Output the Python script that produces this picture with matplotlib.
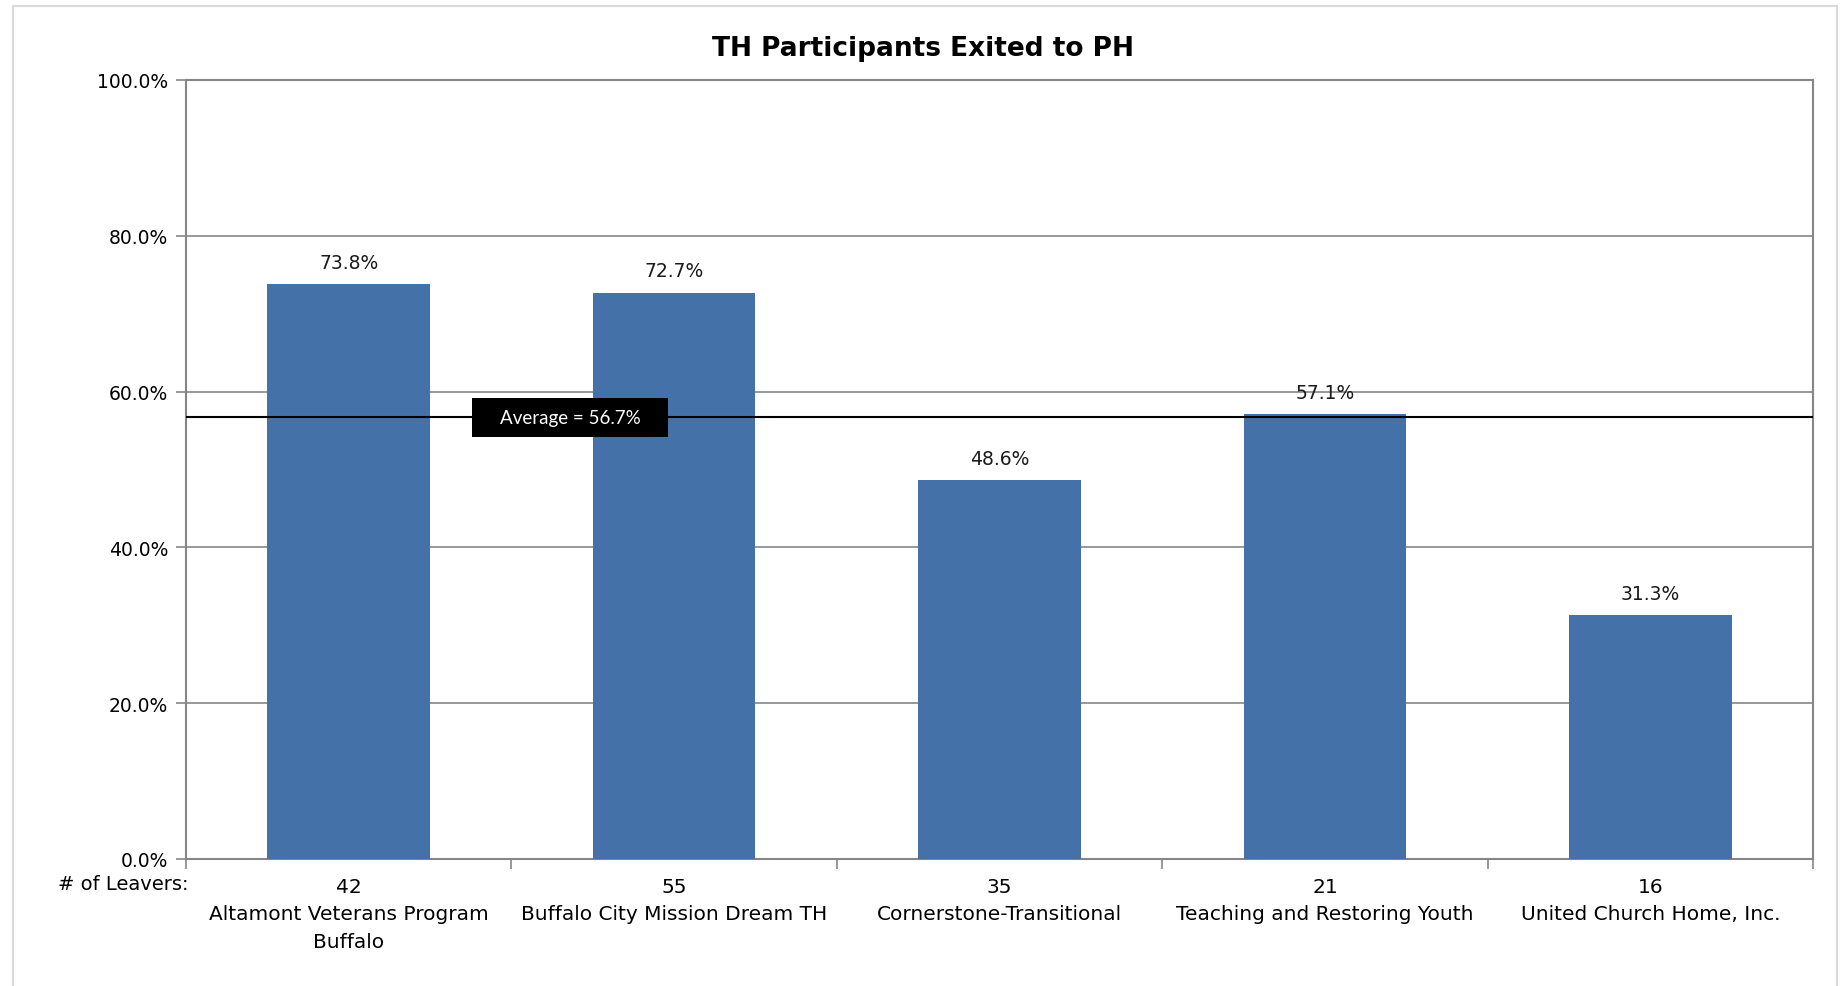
import numpy as np
import matplotlib.pyplot as plt
import matplotlib.patches as patches
from matplotlib.ticker import FuncFormatter, FixedLocator

plt.rcParams['font.family'] = ['DejaVu Sans']

programas = ["Altamont Veterans Program\nBuffalo", "Buffalo City Mission Dream TH",
             "Cornerstone-Transitional", "Teaching and Restoring Youth",
             "United Church Home, Inc."]
salidas = [42, 55, 35, 21, 16]
porcentaje = [73.8, 72.7, 48.6, 57.1, 31.3]
promedio = 56.7

azul = '#4472A8'
gris = '#868686'
tam = 13.5

fig = plt.figure(figsize=(18.45, 9.87), dpi=100)
ax = fig.add_axes([186/1845, 1-860/987, (1813-186)/1845, (860-81)/987])

x = np.arange(len(programas))
ax.bar(x, porcentaje, width=0.5, color=azul, zorder=3)

for xi, v in zip(x, porcentaje):
    ax.annotate(f'{v:.1f}%', (xi, v), xytext=(0, 9), textcoords='offset points',
                ha='center', va='bottom', fontsize=tam, color='#1a1a1a')

# linea del promedio con su etiqueta
ax.axhline(promedio, color='black', linewidth=1.5, zorder=4)
ax.add_patch(patches.Rectangle((0.38, promedio - 2.5), 0.60, 5.0,
                               facecolor='black', edgecolor='none', zorder=5))
ax.text(0.68, promedio, f'Average = {promedio:.1f}%', color='white',
        ha='center', va='center', fontsize=13.5, family='Lato', zorder=6)

ax.set_xlim(-0.5, len(programas) - 0.5)
ax.set_ylim(0, 100)
ax.set_yticks(np.arange(0, 101, 20))
ax.yaxis.set_major_formatter(FuncFormatter(lambda v, _: f'{v:.1f}%'))
ax.grid(axis='y', color=gris, linewidth=1.2, zorder=0)

ax.set_xticks(x)
ax.set_xticklabels([f'{n}\n{p}' for n, p in zip(salidas, programas)],
                   fontsize=14.5, linespacing=1.55, va='top')
ax.xaxis.set_minor_locator(FixedLocator(np.arange(-0.5, len(programas), 1.0)))
ax.tick_params(axis='x', which='major', length=0, pad=13)
ax.tick_params(axis='x', which='minor', length=7, color=gris, width=1.2)
ax.tick_params(axis='y', length=7, color=gris, width=1.2, labelsize=tam, pad=6)

for lado in ax.spines.values():
    lado.set_color(gris)
    lado.set_linewidth(1.5)

fig.text(188/1845, 1-885/987, '# of Leavers:', ha='right', va='center', fontsize=14)
fig.text(0.5, 1-49/987, 'TH Participants Exited to PH', ha='center', va='center',
         fontsize=19, fontweight='bold')

fig.patches.append(patches.Rectangle((13/1845, -0.05), (1837-13)/1845, 1.05-7/987,
                                     transform=fig.transFigure, fill=False,
                                     edgecolor='#d9d9d9', linewidth=1.5))

fig.savefig('out.png', dpi=100)
